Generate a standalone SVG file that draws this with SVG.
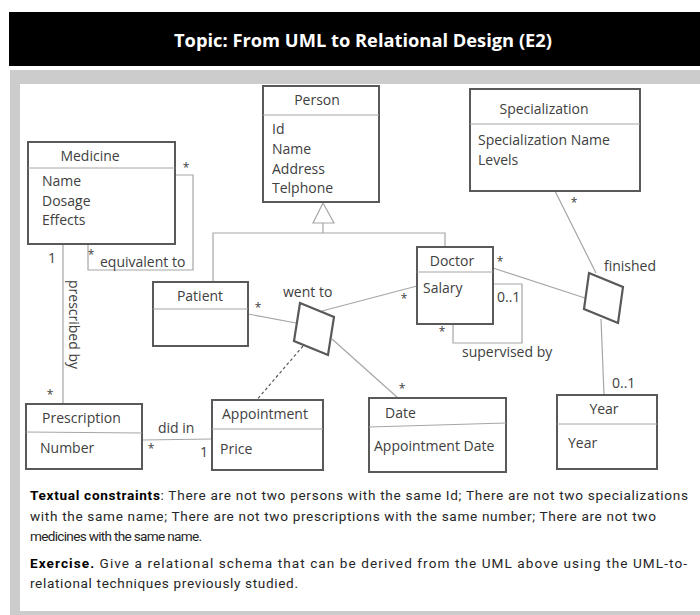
<svg xmlns="http://www.w3.org/2000/svg" width="700" height="615" viewBox="0 0 700 615">
<style>
text{font-family:"Open Sans","Noto Sans","DejaVu Sans",sans-serif;fill:#404040;font-size:14px}
.box{fill:#fff;stroke:#595959;stroke-width:2}
.sep{stroke:#a6a6a6;stroke-width:1;fill:none}
.con{stroke:#a6a6a6;stroke-width:1.2;fill:none}
.dia{fill:#fff;stroke:#595959;stroke-width:2.2}
.ttl{text-anchor:middle}
.star{font-size:12px;text-anchor:middle}
.para{font-family:Roboto,"Liberation Sans",sans-serif;font-size:13.6px;fill:#262626}
</style>
<rect x="0" y="0" width="700" height="615" fill="#fff"/>
<rect x="9" y="12" width="691" height="54" fill="#000"/>
<text x="363" y="47" text-anchor="middle" style="fill:#fff;font-size:18px;font-weight:bold" textLength="378" lengthAdjust="spacingAndGlyphs">Topic: From UML to Relational Design (E2)</text>
<rect x="10" y="70" width="690" height="545" fill="#cccccc"/>
<rect x="20" y="84" width="680" height="527" fill="#fff"/>

<g id="connectors">
  <polyline class="con" points="175,175 193,175 193,270 88,270 88,244"/>
  <line class="con" x1="63" y1="244" x2="63" y2="404"/>
  <polygon points="323,203 313,223 334,223" fill="#fff" stroke="#a6a6a6" stroke-width="1.2"/>
  <polyline class="con" points="323,223 323,233"/>
  <polyline class="con" points="213,282 213,233 445,233 445,247"/>
  <polyline class="con" points="493,284 522,284 522,343 453,343 453,324"/>
  <line class="con" x1="248" y1="314" x2="296" y2="323"/>
  <line class="con" x1="322" y1="311" x2="417" y2="286"/>
  <line class="con" x1="332" y1="339" x2="398" y2="398"/>
  <line x1="303" y1="346" x2="255" y2="402" stroke="#595959" stroke-width="1.2" stroke-dasharray="3,2.5"/>
  <line class="con" x1="142" y1="440" x2="212" y2="439"/>
  <line class="con" x1="555" y1="191" x2="596" y2="273"/>
  <line class="con" x1="493" y1="268" x2="585" y2="298"/>
  <line class="con" x1="601" y1="319" x2="604" y2="395"/>
</g>

<g id="labels">
  <text class="star" x="186" y="172">*</text>
  <text class="star" x="91" y="259">*</text>
  <text x="100" y="267">equivalent to</text>
  <text x="48" y="263" text-anchor="start">1</text>
  <text transform="translate(69,280) rotate(90)">prescribed by</text>
  <text class="star" x="50" y="399">*</text>
  <text x="158" y="433">did in</text>
  <text class="star" x="151" y="453">*</text>
  <text x="200" y="457">1</text>
  <text x="283" y="297">went to</text>
  <text class="star" x="258" y="312">*</text>
  <text class="star" x="404" y="303">*</text>
  <text class="star" x="402" y="393">*</text>
  <text class="star" x="500" y="266">*</text>
  <text x="497" y="302">0..1</text>
  <text class="star" x="442" y="336">*</text>
  <text x="462" y="357">supervised by</text>
  <text class="star" x="574" y="207">*</text>
  <text x="604" y="271">finished</text>
  <text x="612" y="388">0..1</text>
</g>

<g id="wentto">
  <polygon class="dia" points="300,303 334,317 328,355 294,341"/>
</g>
<g id="finished">
  <polygon class="dia" points="589,273 623,287 618,323 584,309"/>
</g>

<g id="medicine">
  <rect class="box" x="28" y="142" width="147" height="102"/>
  <line class="sep" x1="28" y1="168" x2="175" y2="168"/>
  <text class="ttl" x="90" y="161">Medicine</text>
  <text x="42" y="186">Name</text>
  <text x="42" y="206">Dosage</text>
  <text x="42" y="225">Effects</text>
</g>

<g id="person">
  <rect class="box" x="263" y="86" width="116" height="116"/>
  <line class="sep" x1="263" y1="115" x2="379" y2="115"/>
  <text class="ttl" x="317" y="105">Person</text>
  <text x="272" y="134">Id</text>
  <text x="272" y="154">Name</text>
  <text x="272" y="174">Address</text>
  <text x="272" y="193">Telphone</text>
</g>

<g id="specialization">
  <rect class="box" x="470" y="89" width="170" height="102"/>
  <line class="sep" x1="470" y1="124" x2="640" y2="124"/>
  <text class="ttl" x="544" y="114">Specialization</text>
  <text x="478" y="145">Specialization Name</text>
  <text x="478" y="165">Levels</text>
</g>

<g id="patient">
  <rect class="box" x="153" y="282" width="95" height="64"/>
  <line class="sep" x1="153" y1="309" x2="248" y2="309"/>
  <text class="ttl" x="200" y="301">Patient</text>
</g>

<g id="doctor">
  <rect class="box" x="417" y="247" width="76" height="77"/>
  <line class="sep" x1="417" y1="272" x2="493" y2="272"/>
  <text class="ttl" x="452" y="266">Doctor</text>
  <text x="423" y="293">Salary</text>
</g>

<g id="prescription">
  <rect class="box" x="26" y="404" width="116" height="65"/>
  <line class="sep" x1="26" y1="432" x2="142" y2="433"/>
  <text x="42" y="423">Prescription</text>
  <text x="40" y="453">Number</text>
</g>

<g id="appointment">
  <rect class="box" x="212" y="400" width="111" height="70"/>
  <line class="sep" x1="212" y1="429" x2="323" y2="429"/>
  <text x="222" y="419">Appointment</text>
  <text x="220" y="454">Price</text>
</g>

<g id="date">
  <rect class="box" x="369" y="398" width="137" height="74"/>
  <line class="sep" x1="369" y1="427" x2="506" y2="423"/>
  <text x="385" y="418">Date</text>
  <text x="374" y="451">Appointment Date</text>
</g>

<g id="year">
  <rect class="box" x="557" y="395" width="100" height="74"/>
  <line class="sep" x1="557" y1="424" x2="657" y2="424"/>
  <text class="ttl" x="604" y="414">Year</text>
  <text x="568" y="448">Year</text>
</g>

<g id="notes">
  <text class="para" x="30" y="500" textLength="658" lengthAdjust="spacing"><tspan font-weight="bold" style="fill:#000">Textual constraints</tspan>:  There are not two persons with the same Id; There are not two specializations</text>
  <text class="para" x="30" y="521" textLength="626" lengthAdjust="spacing">with the same name; There are not two prescriptions with the same number; There are not two</text>
  <text class="para" x="30" y="541" textLength="172" lengthAdjust="spacing">medicines with the same name.</text>
  <text class="para" x="30" y="568" textLength="657" lengthAdjust="spacing"><tspan font-weight="bold" style="fill:#000">Exercise.</tspan> Give a relational schema that can be derived from the UML above using the UML-to-</text>
  <text class="para" x="30" y="588" textLength="268" lengthAdjust="spacing">relational techniques previously studied.</text>
</g>
</svg>
